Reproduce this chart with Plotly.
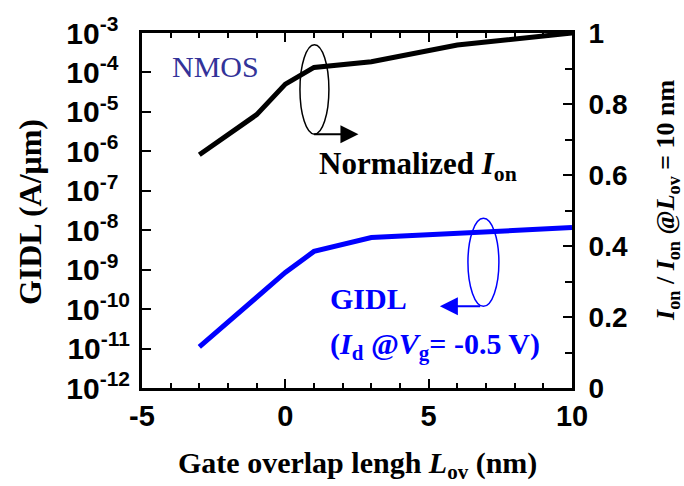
import plotly.graph_objects as go

# ---- data ----
lov_gidl = [-3, -1, 0, 1, 3, 10]
gidl = [1.1e-11, 2.0e-10, 8.5e-10, 2.9e-9, 6.5e-9, 1.17e-8]

lov_ion = [-3, -1, 0, 1, 3, 6, 10]
ion_norm = [0.657, 0.77, 0.856, 0.903, 0.919, 0.966, 1.0]

x_tickvals = [-5, 0, 5, 10]
x_ticktext = ["-5", "0", "5", "10"]

left_exps = [-3, -4, -5, -6, -7, -8, -9, -10, -11, -12]
left_tickvals = [10.0 ** e for e in left_exps]
left_ticktext = [
    "10<sup>%d%s</sup>" % (e, "&nbsp;&nbsp;" if e > -10 else "") for e in left_exps
]

SERIF = "Liberation Serif"
SANS = "Liberation Sans"
BLUE = "#0000ff"

fig = go.Figure()
fig.add_trace(go.Scatter(x=lov_gidl, y=gidl, mode="lines",
                         line=dict(color=BLUE, width=5), yaxis="y",
                         showlegend=False))
fig.add_trace(go.Scatter(x=lov_ion, y=ion_norm, mode="lines",
                         line=dict(color="black", width=5), yaxis="y2",
                         showlegend=False))

fig.update_layout(
    width=684, height=486,
    margin=dict(l=142, r=112, t=31, b=98),
    paper_bgcolor="white", plot_bgcolor="white",
    xaxis=dict(range=[-5, 10], tickvals=x_tickvals, ticktext=x_ticktext,
               showgrid=False, zeroline=False,
               showline=True, linecolor="black", linewidth=3, mirror="ticks",
               ticks="inside", ticklen=9, tickwidth=2, tickcolor="black",
               minor=dict(dtick=1, tick0=-5, ticks="inside", ticklen=5, tickwidth=2, tickcolor="black"),
               tickfont=dict(family=SANS, size=29, color="black", weight="bold"),
               ticklabelstandoff=0),
    yaxis=dict(type="log", range=[-12, -3], tickvals=left_tickvals, ticktext=left_ticktext,
               showgrid=False, zeroline=False, showline=True, linecolor="black", linewidth=3,
               ticks="inside", ticklen=9, tickwidth=2, tickcolor="black",
               tickfont=dict(family=SANS, size=30, color="black", weight="bold"),
               ticklabelstandoff=3),
    yaxis2=dict(range=[0, 1], dtick=0.2, overlaying="y", side="right", showgrid=False,
                zeroline=False, showline=True, linecolor="black", linewidth=3,
                ticks="inside", ticklen=9, tickwidth=2, tickcolor="black",
                minor=dict(dtick=0.1, ticks="inside", ticklen=7, tickwidth=2, tickcolor="black"),
                tickfont=dict(family=SANS, size=28, color="black", weight="bold"),
                ticklabelstandoff=8),
)

# ellipses
fig.add_shape(type="circle", xref="x", yref="y2", x0=0.51, x1=1.52, y0=0.715, y1=0.967,
              line=dict(color="black", width=1.5))
fig.add_shape(type="circle", xref="x", yref="y2", x0=6.37, x1=7.45, y0=0.230, y1=0.478,
              line=dict(color=BLUE, width=1.5))

# arrows
fig.add_annotation(x=2.55, y=0.715, xref="x", yref="y2", ax=0.95, ay=0.715,
                   axref="x", ayref="y2", text="", showarrow=True, arrowhead=2,
                   arrowsize=1.8, arrowwidth=2, arrowcolor="black")
fig.add_annotation(x=5.39, y=0.230, xref="x", yref="y2", ax=6.85, ay=0.230,
                   axref="x", ayref="y2", text="", showarrow=True, arrowhead=2,
                   arrowsize=1.8, arrowwidth=2, arrowcolor=BLUE)

# labels
fig.add_annotation(x=-4.02, y=0.906, xref="x", yref="y2", text="NMOS", showarrow=False,
                   xanchor="left", yanchor="middle",
                   font=dict(family=SERIF, size=30, color="#333399"))
fig.add_annotation(x=1.10, y=0.625, xref="x", yref="y2",
                   text="<b>Normalized <i>I</i><sub>on</sub></b>", showarrow=False,
                   xanchor="left", yanchor="middle",
                   font=dict(family=SERIF, size=31, color="black"))
fig.add_annotation(x=1.49, y=0.252, xref="x", yref="y2", text="<b>GIDL</b>",
                   showarrow=False, xanchor="left", yanchor="middle",
                   font=dict(family=SERIF, size=30, color=BLUE))
fig.add_annotation(x=1.49, y=0.118, xref="x", yref="y2",
                   text="<b>(<i>I</i><sub>d</sub> @<i>V</i><sub>g</sub>= -0.5 V)</b>",
                   showarrow=False, xanchor="left", yanchor="middle",
                   font=dict(family=SERIF, size=30, color=BLUE))

# axis titles
fig.add_annotation(x=0.5, y=-0.216, xref="paper", yref="paper",
                   text="<b>Gate overlap lengh <i>L</i><sub>ov</sub> (nm)</b>",
                   showarrow=False, xanchor="center", yanchor="middle",
                   font=dict(family=SERIF, size=30, color="black"))
fig.add_annotation(x=-0.26, y=0.496, xref="paper", yref="paper",
                   text="<b>GIDL (A/μm)</b>", textangle=-90,
                   showarrow=False, xanchor="center", yanchor="middle",
                   font=dict(family=SERIF, size=32, color="black"))
fig.add_annotation(x=1.221, y=0.527, xref="paper", yref="paper",
                   text="<b><i>I</i><sub>on</sub> / <i>I</i><sub>on</sub> @<i>L</i><sub>ov</sub> = 10 nm</b>",
                   textangle=-90, showarrow=False, xanchor="center", yanchor="middle",
                   font=dict(family=SERIF, size=26, color="black"))

fig.write_html("out.html")
